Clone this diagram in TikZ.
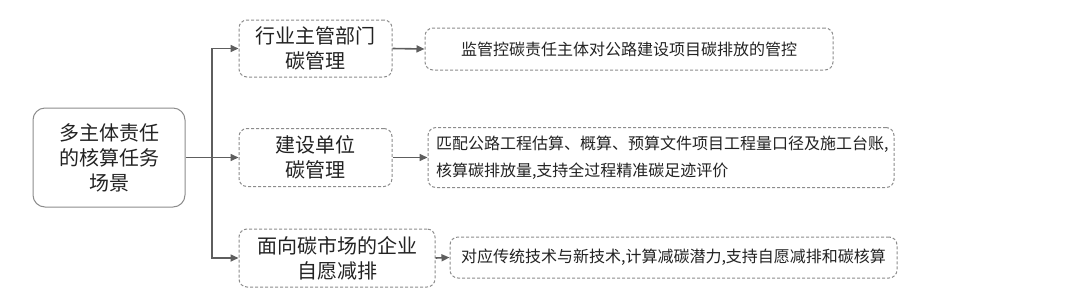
\documentclass[tikz,border=0pt]{standalone}
\usepackage{fontspec}
\setmainfont{Noto Sans CJK SC}
\usepackage{tikz}
\usetikzlibrary{arrows.meta,positioning,calc}
\definecolor{linegray}{HTML}{5E5E5E}
\definecolor{dashgray}{HTML}{8C8C8C}
\definecolor{textgray}{HTML}{222222}
\tikzset{%
  rootbox/.style={draw=dashgray,line width=1pt,rounded corners=12pt,align=center,text=textgray,
    font=\fontsize{20}{25}\selectfont,inner sep=0pt},
  midbox/.style={draw=dashgray,line width=1pt,dash pattern=on 3pt off 2pt,rounded corners=8pt,
    align=center,text=textgray,font=\fontsize{20}{25}\selectfont,inner sep=0pt},
  descbox/.style={draw=dashgray,line width=1pt,dash pattern=on 3pt off 2pt,rounded corners=8pt,
    align=left,text=textgray,font=\fontsize{16}{27}\selectfont,inner sep=0pt},
  arrow/.style={-{Triangle[length=8pt,width=7pt]}, line width=1.6pt, draw=linegray}%
}

\begin{document}
\begin{tikzpicture}[x=1pt,y=-1pt]
\useasboundingbox (0,0) rectangle (1077,301);

% Root task
\node[rootbox, minimum width=152pt, minimum height=99pt] (root) at (109,157.5)
  {多主体责任\\的核算任务\\场景};

% Responsible parties
\node[midbox, minimum width=153pt, minimum height=57pt] (gov) at (315.5,48.5)
  {行业主管部门\\碳管理};
\node[midbox, minimum width=153pt, minimum height=58pt] (build) at (315.5,157.5)
  {建设单位\\碳管理};
\node[midbox, minimum width=196pt, minimum height=58pt] (market) at (337,258)
  {面向碳市场的企业\\自愿减排};

% Descriptions
\node[descbox, minimum width=408pt, minimum height=42pt, align=center] (govdesc) at (629,49)
  {监管控碳责任主体对公路建设项目碳排放的管控};
\node[descbox, minimum width=466pt, minimum height=60pt, text width=450pt] (builddesc) at (661,157.5)
  {匹配公路工程估算、概算、预算文件项目工程量口径及施工台账,\\核算碳排放量,支持全过程精准碳足迹评价};
\node[descbox, minimum width=447pt, minimum height=41pt, align=center] (marketdesc) at (673.5,257.5)
  {对应传统技术与新技术,计算减碳潜力,支持自愿减排和碳核算};

% Branching connectors
\coordinate (fork) at (212,157.5);
\draw[arrow] (root.east) -- (build.west);
\draw[arrow] (fork) |- (gov.west);
\draw[arrow] (fork) |- (market.west);

\draw[arrow] (gov.east) -- (govdesc.west);
\draw[arrow] (build.east) -- (builddesc.west);
\draw[arrow] (market.east) -- (marketdesc.west);

\end{tikzpicture}
\end{document}
